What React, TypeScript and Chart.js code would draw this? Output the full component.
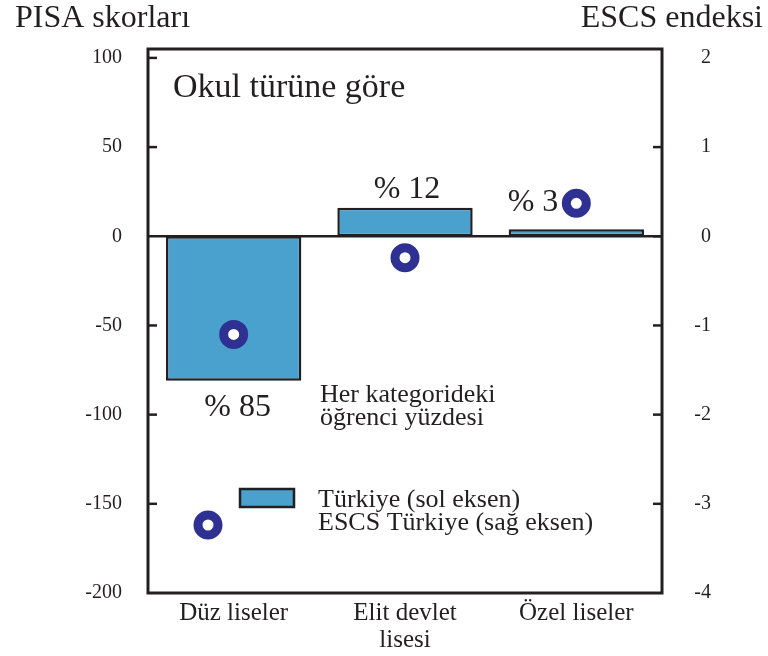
import React, { useEffect, useRef } from "react";
import { Chart, registerables } from "chart.js";
Chart.register(...registerables);

const categories = [["Düz liseler"], ["Elit devlet", "lisesi"], ["Özel liseler"]];
const pisaScores = [-81, 16, 4];
const escsIndex = [-1.1, -0.24, 0.37];
const studentShares = [85, 12, 3];
const leftTicks = [100, 50, 0, -50, -100, -150, -200];
const rightTicks = [2, 1, 0, -1, -2, -3, -4];

const leftTitle = "PISA skorları";
const rightTitle = "ESCS endeksi";
const panelTitle = "Okul türüne göre";
const noteLines = ["Her kategorideki", "öğrenci yüzdesi"];
const legendBar = "Türkiye (sol eksen)";
const legendDot = "ESCS Türkiye (sağ eksen)";

const FONT = "'Liberation Serif', 'Times New Roman', serif";
const INK = "#231f20";
const BAR = "#4ba1ce";
const DOT = "#2e3192";

function ring(ctx: CanvasRenderingContext2D, x: number, y: number) {
  ctx.save();
  ctx.beginPath();
  ctx.arc(x, y, 10, 0, Math.PI * 2);
  ctx.fillStyle = "#ffffff";
  ctx.fill();
  ctx.lineWidth = 9;
  ctx.strokeStyle = DOT;
  ctx.stroke();
  ctx.restore();
}

const decor = {
  id: "decor",
  beforeDatasetsDraw(chart: any) {
    const { ctx, chartArea, scales } = chart;
    const y0 = scales.y.getPixelForValue(0);
    ctx.save();
    ctx.strokeStyle = INK;
    ctx.lineWidth = 2.5;
    ctx.beginPath();
    ctx.moveTo(chartArea.left, y0);
    ctx.lineTo(chartArea.right, y0);
    ctx.stroke();
    ctx.restore();
  },
  afterDraw(chart: any) {
    const { ctx, chartArea, scales } = chart;
    const { left, right, top, bottom } = chartArea;
    ctx.save();
    // frame
    ctx.strokeStyle = INK;
    ctx.lineWidth = 3;
    ctx.strokeRect(left, top, right - left, bottom - top);
    // inward tick marks
    ctx.lineWidth = 2.5;
    leftTicks.slice(0, -1).forEach((v) => {
      if (v === 0) return;
      const py = scales.y.getPixelForValue(v);
      ctx.beginPath();
      ctx.moveTo(left, py);
      ctx.lineTo(left + 9, py);
      ctx.stroke();
    });
    rightTicks.slice(1, -1).forEach((v) => {
      const py = scales.y2.getPixelForValue(v);
      ctx.beginPath();
      ctx.moveTo(right - 9, py);
      ctx.lineTo(right, py);
      ctx.stroke();
    });

    ctx.fillStyle = INK;
    // right axis labels, right-aligned
    ctx.font = `20px ${FONT}`;
    ctx.textAlign = "right";
    ctx.textBaseline = "middle";
    rightTicks.forEach((v) => {
      ctx.fillText(String(v), right + 49, scales.y2.getPixelForValue(v));
    });

    ctx.textBaseline = "alphabetic";
    // axis titles
    ctx.font = `32px ${FONT}`;
    ctx.textAlign = "left";
    ctx.fillText(leftTitle, 15, 27);
    ctx.textAlign = "right";
    ctx.fillText(rightTitle, 763, 27);
    // panel title
    ctx.textAlign = "left";
    ctx.font = `34px ${FONT}`;
    ctx.fillText(panelTitle, left + 25, 97);

    // share labels
    const bars = chart.getDatasetMeta(0).data;
    const dots = chart.getDatasetMeta(1).data;
    ctx.font = `32px ${FONT}`;
    bars.forEach((b: any, i: number) => {
      const txt = `% ${studentShares[i]}`;
      const v = pisaScores[i];
      if (v < 0) {
        ctx.textAlign = "center";
        ctx.fillText(txt, b.x + 4, b.y + 35);
      } else if (dots[i].y < b.y && Math.abs(dots[i].y - b.y) < 40) {
        ctx.textAlign = "right";
        ctx.fillText(txt, dots[i].x - 18, b.y - 18);
      } else {
        ctx.textAlign = "center";
        ctx.fillText(txt, b.x + 2, b.y - 10);
      }
    });

    // note
    ctx.textAlign = "left";
    ctx.font = `26px ${FONT}`;
    ctx.fillText(noteLines[0], 320, 402);
    ctx.fillText(noteLines[1], 320, 425);

    // legend
    ctx.fillStyle = BAR;
    ctx.fillRect(239, 488, 56, 20);
    ctx.strokeStyle = INK;
    ctx.lineWidth = 2.5;
    ctx.strokeRect(240, 489, 54, 18);
    ctx.fillStyle = INK;
    ctx.fillText(legendBar, 318, 507);
    ctx.fillText(legendDot, 318, 530);
    ring(ctx, 208, 525);
    ctx.restore();
  },
};

export default function App() {
  const ref = useRef<HTMLCanvasElement | null>(null);
  useEffect(() => {
    if (!ref.current) return;
    const chart = new Chart(ref.current, {
      type: "bar",
      data: {
        labels: categories as any,
        datasets: [
          {
            type: "bar",
            label: legendBar,
            data: pisaScores,
            yAxisID: "y",
            backgroundColor: BAR,
            borderColor: INK,
            borderWidth: 2.5,
            borderSkipped: false,
            barPercentage: 0.79,
            categoryPercentage: 1,
            order: 2,
          },
          {
            type: "line",
            label: legendDot,
            data: escsIndex,
            yAxisID: "y2",
            showLine: false,
            pointRadius: 10,
            pointBorderWidth: 9,
            pointBackgroundColor: "#ffffff",
            pointBorderColor: DOT,
            order: 1,
          } as any,
        ],
      },
      options: {
        responsive: false,
        animation: false,
        devicePixelRatio: 1,
        layout: { padding: { top: 49, left: 0, right: 0, bottom: 0 } },
        plugins: { legend: { display: false }, tooltip: { enabled: false } },
        scales: {
          x: {
            grid: { display: false, drawTicks: false },
            border: { display: false },
            ticks: {
              color: INK,
              font: { family: FONT, size: 25, lineHeight: 1.08 },
              padding: 7,
              maxRotation: 0,
              autoSkip: false,
            },
            afterFit: (s: any) => {
              s.height = 63;
            },
          },
          y: {
            position: "left",
            min: -200,
            max: 105,
            grid: { display: false, drawTicks: false },
            border: { display: false },
            ticks: {
              color: INK,
              font: { family: FONT, size: 20 },
              padding: 26,
            },
            afterBuildTicks: (s: any) => {
              s.ticks = leftTicks.map((v) => ({ value: v }));
            },
            afterFit: (s: any) => {
              s.width = 148;
            },
          },
          y2: {
            position: "right",
            min: -4,
            max: 2.1,
            grid: { display: false, drawTicks: false },
            border: { display: false },
            ticks: { display: false },
            afterBuildTicks: (s: any) => {
              s.ticks = rightTicks.map((v) => ({ value: v }));
            },
            afterFit: (s: any) => {
              s.width = 106;
            },
          },
        },
      },
      plugins: [decor],
    });
    return () => chart.destroy();
  }, []);
  return (
    <div style={{ position: "absolute", left: 0, top: 0, width: 768, height: 656, background: "#fff" }}>
      <canvas ref={ref} width={768} height={656} style={{ display: "block" }} />
    </div>
  );
}
